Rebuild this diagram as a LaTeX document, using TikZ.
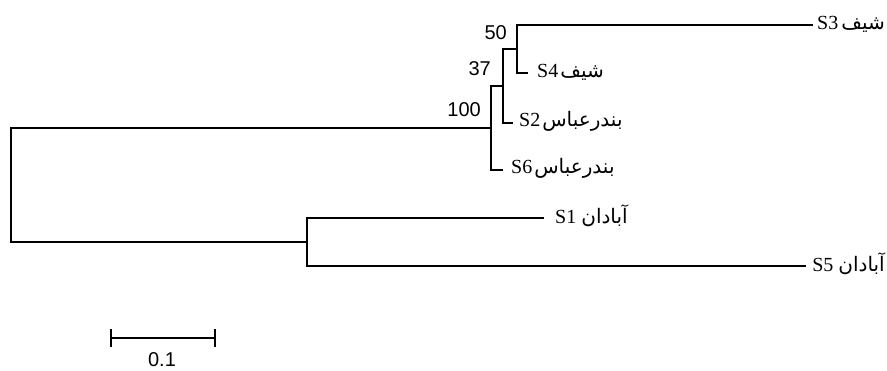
\documentclass[tikz,border=0pt]{standalone}
\usepackage{fontspec}
\setmainfont{Liberation Serif}
\newfontfamily\numfont{Liberation Sans}
\newfontfamily\arabicfont[Script=Arabic]{DejaVu Sans}
\TeXXeTstate=1
\tikzset{
  branch/.style={line width=1.6pt, line cap=rect},
  leaflabel/.style={anchor=west, inner sep=0pt, font=\fontsize{20}{24}\selectfont},
  boot/.style={anchor=east, inner sep=0pt, font=\numfont\fontsize{20}{22}\selectfont},
}
\newcommand{\ar}[1]{{\arabicfont\fontsize{20}{24}\selectfont\beginR #1\endR}}
\begin{document}
\begin{tikzpicture}[x=1pt,y=-1pt]
\useasboundingbox (0,0) rectangle (887,370);
% internal nodes
\coordinate (n100) at (491,128);
\coordinate (n37) at (503,86);
\coordinate (n50) at (517,49);
\coordinate (nb) at (307,242);
% leaves
\coordinate (S3) at (812,25);
\coordinate (S4) at (527,73);
\coordinate (S2) at (512,123);
\coordinate (S6) at (502,170);
\coordinate (S1) at (543,218);
\coordinate (S5) at (805,266);
% branches
\draw[branch] (n100) -| (11,242) -- (nb);
\draw[branch] (S6) -| (n100) |- (n37);
\draw[branch] (S2) -| (n37) |- (n50);
\draw[branch] (S4) -| (n50) |- (S3);
\draw[branch] (S1) -| (nb) |- (S5);
% leaf labels
\node[leaflabel, anchor=east] (L3) at (885,24) {S3\hspace{3pt}\ar{شیف}};
\node[leaflabel] (L4) at (537,72) {S4\hspace{2pt}\ar{شیف}};
\node[leaflabel] (L2) at (519,121) {S2\hspace{2pt}\ar{بندرعباس}};
\node[leaflabel] (L6) at (511,168) {S6\hspace{2pt}\ar{بندرعباس}};
\node[leaflabel] (L1) at (555,216) {S1 \ar{آبادان}};
\node[leaflabel, anchor=east] (L5) at (885,264) {S5 \ar{آبادان}};
% bootstrap values
\node[boot] (b50) at (507,33) {50};
\node[boot] (b37) at (491,69) {37};
\node[boot] (b100) at (481,110) {100};
% scale bar
\coordinate (sbL) at (111,338);
\coordinate (sbR) at (215,338);
\draw[line width=1.6pt] (sbL) -- (sbR);
\draw[line width=1.6pt] ([yshift=-9pt]sbL) -- ([yshift=9pt]sbL);
\draw[line width=1.6pt] ([yshift=-9pt]sbR) -- ([yshift=9pt]sbR);
\node[font=\numfont\fontsize{20}{22}\selectfont, inner sep=0pt] (sbt) at (162,360) {0.1};
\end{tikzpicture}
\end{document}
